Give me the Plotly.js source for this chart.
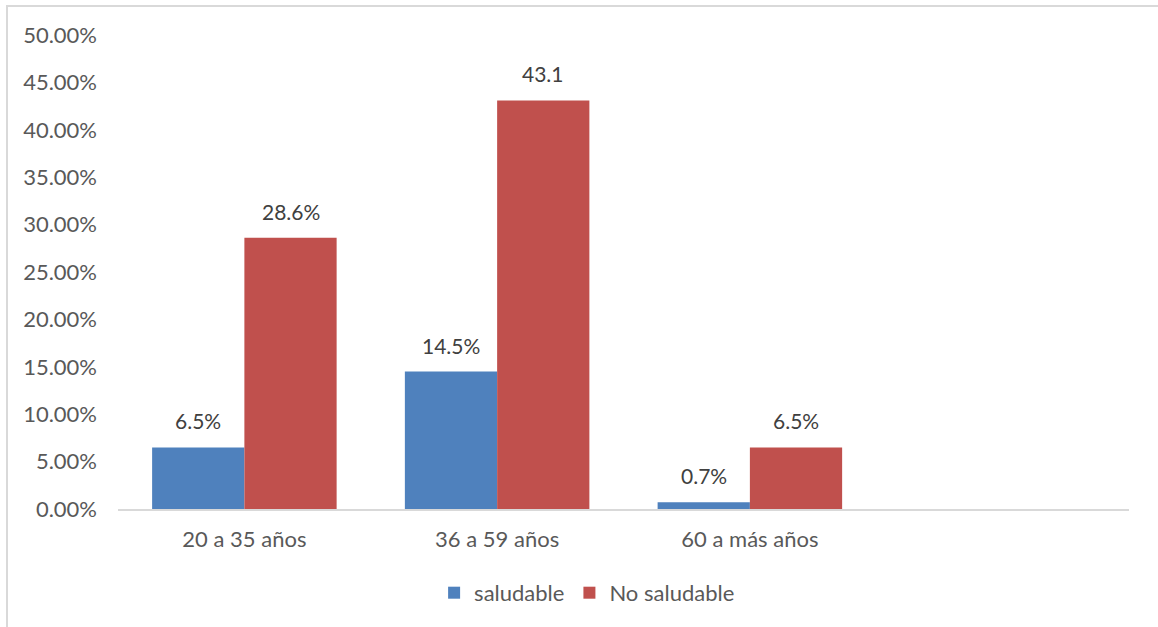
<!DOCTYPE html>
<html>
<head>
<meta charset="utf-8">
<script src="https://cdn.plot.ly/plotly-3.0.1.min.js"></script>
<style>
  body { margin: 0; background: #fff; }
  #frame { position: absolute; left: 6px; top: 5px; width: 1160px; height: 630px;
           border-left: 2px solid #d9d9d9; border-top: 2px solid #d9d9d9; }
  #chart { position: absolute; left: 0; top: 0; width: 1158px; height: 627px; }
</style>
</head>
<body>
<div id="frame"></div>
<div id="chart"></div>
<script>
// Age groups and percentages
const categories = ['20 a 35 años', '36 a 59 años', '60 a más años'];
const saludable = [0.065, 0.145, 0.007];
const noSaludable = [0.286, 0.431, 0.065];
const saludableLabels = ['6.5%', '14.5%', '0.7%'];
const noSaludableLabels = ['28.6%', '43.1', '6.5%'];

const fontFamily = 'Lato, "Open Sans", sans-serif';
const bargap = 0.27;
const half = (1 - bargap) / 4; // offset of each bar centre inside its group

const data = [
  {type: 'bar', name: 'saludable', x: categories, y: saludable, marker: {color: '#4f81bd'}},
  {type: 'bar', name: 'No saludable', x: categories, y: noSaludable, marker: {color: '#c0504d'}}
];

// value labels sitting a little above each bar, as in the original
const annotations = [];
categories.forEach((c, i) => {
  annotations.push({x: i - half, y: saludable[i], text: saludableLabels[i]});
  annotations.push({x: i + half, y: noSaludable[i], text: noSaludableLabels[i]});
});
annotations.forEach(a => {
  Object.assign(a, {xref: 'x', yref: 'y', showarrow: false, yanchor: 'bottom', yshift: 12,
    font: {family: fontFamily, size: 21, color: '#404040'}});
});

const layout = {
  width: 1158, height: 627,
  margin: {l: 118, r: 29, t: 35, b: 118},
  paper_bgcolor: 'rgba(0,0,0,0)',
  plot_bgcolor: 'rgba(0,0,0,0)',
  font: {family: fontFamily, size: 22, color: '#595959'},
  barmode: 'group',
  bargap: bargap,
  bargroupgap: 0,
  xaxis: {
    range: [-0.5, 3.5],
    showline: true, linecolor: '#d9d9d9', linewidth: 2,
    showgrid: false, zeroline: false, ticks: '',
    ticklabelstandoff: 10
  },
  yaxis: {
    range: [0, 0.5], dtick: 0.05, tickformat: '.2%',
    showgrid: false, zeroline: false, showline: false, ticks: '',
    ticklabelstandoff: 20
  },
  annotations: annotations,
  showlegend: true,
  legend: {
    orientation: 'h', x: 0.464, xanchor: 'center', y: -0.177, yanchor: 'middle',
    font: {size: 22, color: '#595959'}, itemwidth: 30
  }
};

Plotly.newPlot('chart', data, layout, {displayModeBar: false, staticPlot: true});
</script>
</body>
</html>
